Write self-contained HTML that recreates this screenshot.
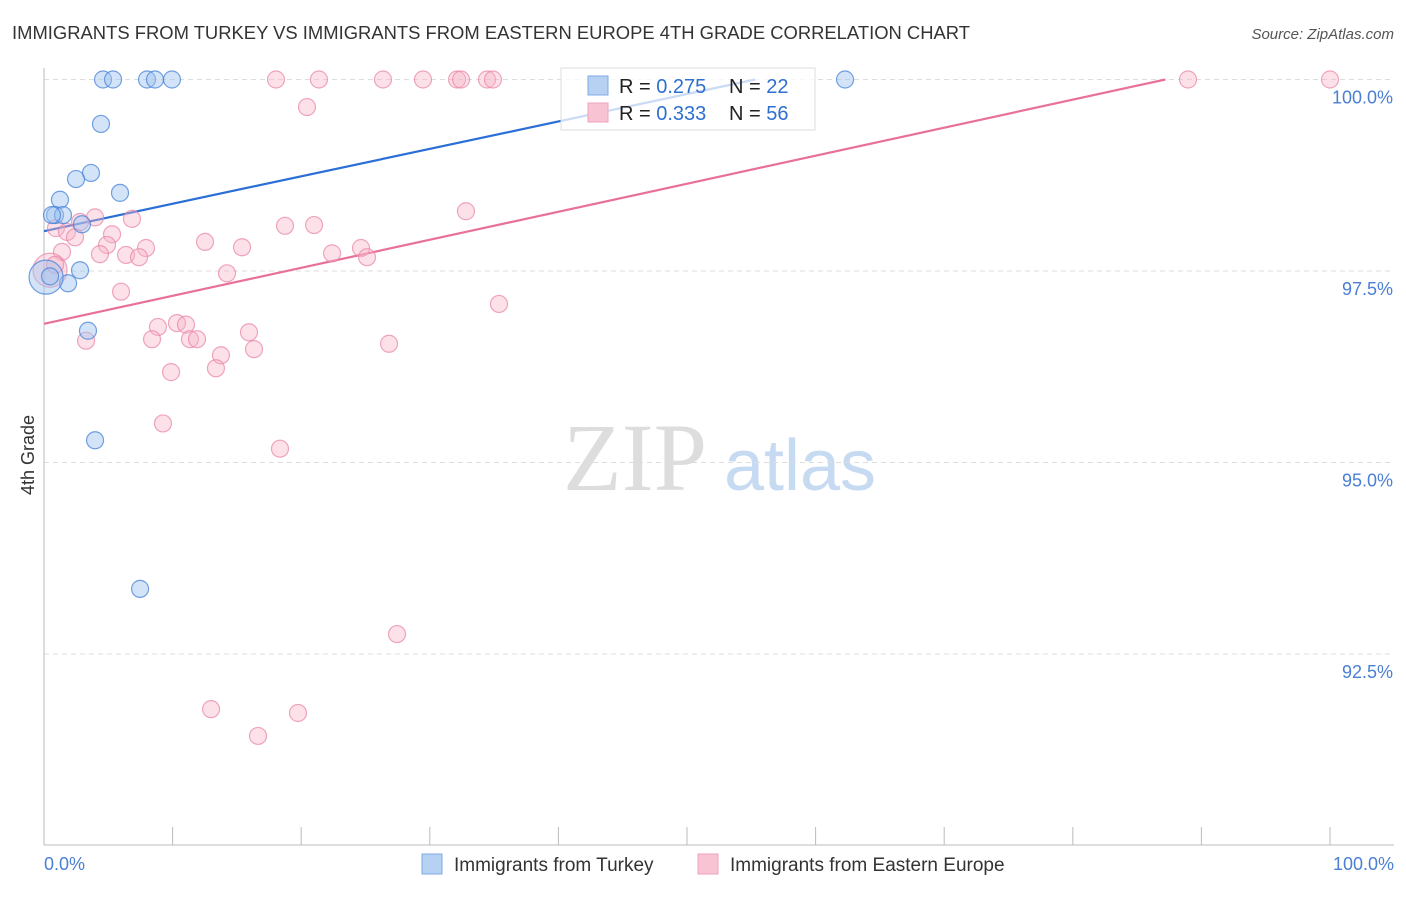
<!DOCTYPE html>
<html><head><meta charset="utf-8"><style>
body{margin:0;background:#fff;font-family:"Liberation Sans",sans-serif}
</style></head><body>
<svg id="chart" width="1406" height="892" xmlns="http://www.w3.org/2000/svg" font-family="Liberation Sans, sans-serif">
<text x="12" y="39" font-size="18" fill="#333" textLength="958" lengthAdjust="spacingAndGlyphs">IMMIGRANTS FROM TURKEY VS IMMIGRANTS FROM EASTERN EUROPE 4TH GRADE CORRELATION CHART</text>
<text x="1394" y="39" font-size="15" fill="#555" text-anchor="end" font-style="italic">Source: ZipAtlas.com</text>
<text transform="translate(34,455) rotate(-90)" font-size="18" fill="#333" text-anchor="middle">4th Grade</text>
<g>
<text x="635" y="490" font-size="96" fill="#ddd" font-family="Liberation Serif, serif" text-anchor="middle">ZIP</text>
<text x="800" y="490" font-size="72" fill="#c6daf2" text-anchor="middle">atlas</text>
</g>
<g id="grid"></g><g id="axes"></g><g id="lines"></g><g id="pts"></g>
<g>
<rect x="561" y="68" width="254" height="62" fill="rgba(255,255,255,0.75)" stroke="#ddd"/>
<rect x="588" y="76" width="20" height="19" fill="#b7d1f3" stroke="#7fa9e4"/>
<rect x="588" y="103" width="20" height="19" fill="#f8c4d4" stroke="#eea3bb"/>
<text x="619" y="93" font-size="20" fill="#222">R = <tspan fill="#2f6fd0">0.275</tspan><tspan x="729">N = </tspan><tspan fill="#2f6fd0">22</tspan></text>
<text x="619" y="120" font-size="20" fill="#222">R = <tspan fill="#2f6fd0">0.333</tspan><tspan x="729">N = </tspan><tspan fill="#2f6fd0">56</tspan></text>
</g>
<g>
<rect x="422" y="854" width="20" height="20" fill="#b7d1f3" stroke="#7fa9e4"/>
<text x="454" y="871" font-size="19" fill="#333">Immigrants from Turkey</text>
<rect x="698" y="854" width="20" height="20" fill="#f8c4d4" stroke="#eea3bb"/>
<text x="730" y="871" font-size="19" fill="#333">Immigrants from Eastern Europe</text>
</g>
</svg>
<script>
const yTicks=[100,97.5,95,92.5];
const yTickLabels=["100.0%","97.5%","95.0%","92.5%"];
const xTickLabels=["0.0%","100.0%"];
const turkeyX=[4.59,5.37,8.01,8.63,9.95,62.29,4.43,3.65,2.49,5.91,1.24,0.86,1.48,2.95,2.80,1.87,0.16,3.42,3.97,7.47,0.62,0.47];
const turkeyY=[100,100,100,100,100,100,99.42,98.78,98.70,98.52,98.43,98.23,98.23,98.11,97.51,97.34,97.42,96.72,95.29,93.35,98.23,97.43];
const turkeyBig=[16];
const eeX=[18.04,21.38,26.36,29.47,32.12,32.43,34.45,34.91,88.96,100,20.45,32.81,3.97,6.84,2.80,0.93,1.79,2.41,5.29,18.74,21.00,12.52,4.90,7.93,15.40,24.65,22.40,25.12,4.35,6.38,7.39,1.40,14.23,0.47,5.99,35.38,8.86,10.34,11.04,15.94,8.40,11.35,11.90,3.27,26.83,16.33,13.76,13.37,9.88,9.25,18.35,27.45,12.99,19.75,16.64,0.86];
const eeY=[100,100,100,100,100,100,100,100,100,100,99.64,98.28,98.20,98.18,98.14,98.06,98.01,97.94,97.98,98.09,98.10,97.88,97.84,97.80,97.81,97.80,97.73,97.68,97.72,97.71,97.68,97.75,97.47,97.51,97.23,97.07,96.77,96.82,96.80,96.70,96.61,96.61,96.61,96.59,96.55,96.48,96.40,96.23,96.18,95.51,95.18,92.76,91.78,91.73,91.43,97.58];
const eeBig=[33];
const turkeyTrend=[[0,98.02],[55.3,100]];
const eeTrend=[[0,96.81],[87.2,100]];
const NS="http://www.w3.org/2000/svg";
const X=v=>44+v*12.86, Y=v=>79.5+(100-v)*76.6;
function mk(t,a,p){const e=document.createElementNS(NS,t);for(const k in a)e.setAttribute(k,a[k]);document.getElementById(p).appendChild(e);return e;}
yTicks.forEach((t,i)=>{
 const l=mk('line',{x1:44,x2:1394,y1:Y(t),y2:Y(t),stroke:'#ddd','stroke-dasharray':'5,4'},'grid');
 
 
 const tx=mk('text',{x:1393,y:Y(t)+24,'font-size':18,fill:'#4a7fd4','text-anchor':'end'},'axes');tx.textContent=yTickLabels[i];
 
 
});
const ax=mk('line',{x1:44,x2:44,y1:68,y2:845,stroke:'#bbb'},'axes');


const bx=mk('line',{x1:44,x2:1394,y1:845,y2:845,stroke:'#bbb'},'axes');


for(let i=0;i<=10;i++){const t=mk('line',{x1:X(i*10),x2:X(i*10),y1:827,y2:845,stroke:'#bbb'},'axes');
 
 }
[[0,'start',44],[100,'end',1394]].forEach((d,i)=>{const t=mk('text',{x:d[2],y:870,'font-size':18,fill:'#4a7fd4','text-anchor':d[1]},'axes');t.textContent=xTickLabels[i];
 
 });
function pts(xs,ys,big,fill,stroke,name){xs.forEach((x,i)=>{const r=big.includes(i)?17:8.5;
 const c=mk('circle',{cx:X(x),cy:Y(ys[i]),r:r,fill:fill,stroke:stroke,'stroke-width':1.2},'pts');
 
 });}
pts(eeX,eeY,eeBig,'rgba(248,180,200,0.4)','rgba(232,130,165,0.7)','point-eastern-europe');
pts(turkeyX,turkeyY,turkeyBig,'rgba(160,196,240,0.45)','rgba(70,130,215,0.75)','point-turkey');
const l1=mk('line',{x1:X(turkeyTrend[0][0]),y1:Y(turkeyTrend[0][1]),x2:X(turkeyTrend[1][0]),y2:Y(turkeyTrend[1][1]),stroke:'#2b6fd6','stroke-width':2.2},'lines');


const l2=mk('line',{x1:X(eeTrend[0][0]),y1:Y(eeTrend[0][1]),x2:X(eeTrend[1][0]),y2:Y(eeTrend[1][1]),stroke:'#e8709a','stroke-width':2.2},'lines');


</script>
</body></html>
